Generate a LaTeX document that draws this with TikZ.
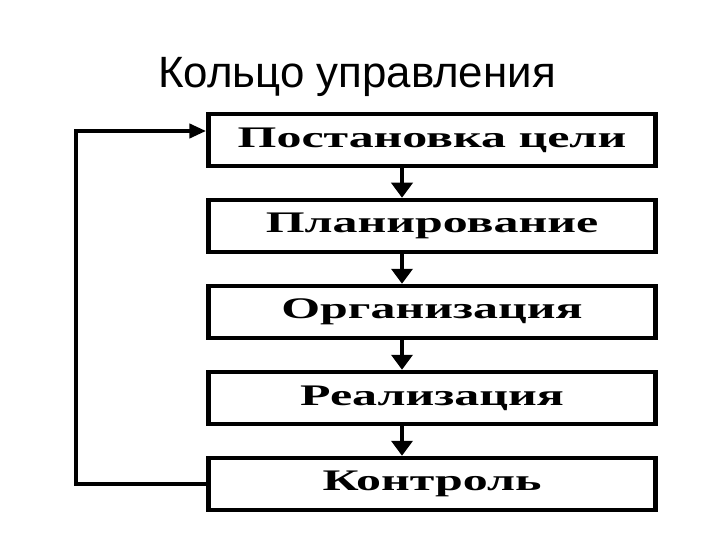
\documentclass[tikz,border=0pt]{standalone}
\usepackage{fontspec}
\usepackage{tikz}
\usetikzlibrary{positioning,arrows.meta}
\setmainfont{Liberation Sans}
\newfontfamily\boxfont[FakeStretch=1.67]{Liberation Serif}

\begin{document}
\begin{tikzpicture}[
  x=1bp, y=-1bp,
  node distance=29.5bp,
  stagebox/.style={draw, line width=4.5bp, minimum width=447bp,
                minimum height=52bp, inner sep=0pt,
                font=\boxfont\bfseries\fontsize{30}{33}\selectfont},
  arr/.style={-{Triangle[width=21bp,length=15bp]}, line width=4.5bp},
  back/.style={-{Triangle[width=14bp,length=17bp]}, line width=4.5bp}
]
\useasboundingbox (0,0) rectangle (720,540);

\node[font=\fontsize{44}{50}\selectfont, anchor=base] (title) at (357,88) {Кольцо управления};

\node[stagebox] (goal) at (432,140) {Постановка цели};
\node[stagebox, below=of goal] (plan) {Планирование};
\node[stagebox, below=of plan] (org)  {Организация};
\node[stagebox, below=of org]  (real) {Реализация};
\node[stagebox, below=of real] (ctrl) {Контроль};

\draw[arr] ([xshift=-30bp]goal.south) -- ([xshift=-30bp]plan.north);
\draw[arr] ([xshift=-30bp]plan.south) -- ([xshift=-30bp]org.north);
\draw[arr] ([xshift=-30bp]org.south)  -- ([xshift=-30bp]real.north);
\draw[arr] ([xshift=-30bp]real.south) -- ([xshift=-30bp]ctrl.north);

% feedback loop
\draw[back] (ctrl.west) -- ++(-130,0) |- ([yshift=9bp]goal.west);

\end{tikzpicture}
\end{document}
